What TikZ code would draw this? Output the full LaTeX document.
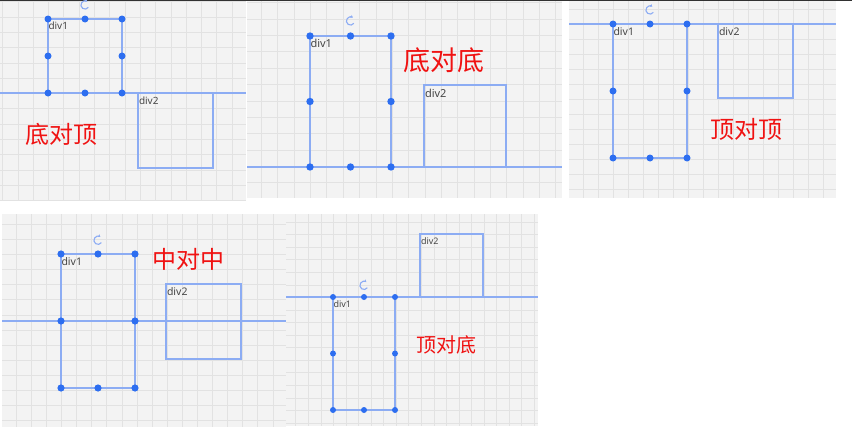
\documentclass[tikz,border=0pt]{standalone}
\usepackage{fontspec}
\setmainfont{Noto Sans}
\newfontfamily\cjk{Noto Sans CJK SC}
\usetikzlibrary{arrows.meta}
\definecolor{bg}{RGB}{243,243,243}
\definecolor{gridc}{RGB}{226,226,226}
\definecolor{hblue}{RGB}{45,110,240}
\definecolor{lblue}{RGB}{140,172,243}
\definecolor{txtred}{RGB}{240,18,18}
\definecolor{lbl}{RGB}{70,70,70}
\definecolor{topbar}{RGB}{50,50,50}

\newcommand\gridpanel[7]{%
  \fill[bg] (#1,#2) rectangle (#3,#4);
  \begin{scope}
    \clip (#1,#2) rectangle (#3,#4);
    \foreach \gi in {-26,...,26} {
      \draw[gridline] ({#5+\gi*#7},#2) -- ({#5+\gi*#7},#4);
      \draw[gridline] (#1,{#6+\gi*#7}) -- (#3,{#6+\gi*#7});
    }
  \end{scope}}

% #1 prefix, #2 L, #3 T, #4 R, #5 B, #6 handle size, #7 rotate offset, #8 label size
\newcommand\divone[8]{%
  \node[divbox,minimum width={#4pt-#2pt},minimum height={#5pt-#3pt}] (#1box) at (#2,#3) {};
  \node[handle,minimum size=#6pt] (#1tl) at (#2,#3) {};
  \node[handle,minimum size=#6pt] (#1tm) at ({(#2+#4)/2},#3) {};
  \node[handle,minimum size=#6pt] (#1tr) at (#4,#3) {};
  \node[handle,minimum size=#6pt] (#1ml) at (#2,{(#3+#5)/2}) {};
  \node[handle,minimum size=#6pt] (#1mr) at (#4,{(#3+#5)/2}) {};
  \node[handle,minimum size=#6pt] (#1bl) at (#2,#5) {};
  \node[handle,minimum size=#6pt] (#1bm) at ({(#2+#4)/2},#5) {};
  \node[handle,minimum size=#6pt] (#1br) at (#4,#5) {};
  \coordinate (#1rot) at ({(#2+#4)/2},{#3-#7});
  \draw[rot,{Stealth[length=2.6pt,width=3.2pt]}-] ([shift={(55:4.1pt)}]#1rot) arc[start angle=55,end angle=325,radius=4.1pt];
  \node[divlabel,font=\fontsize{#8}{#8}\selectfont] (#1lab) at ({#2+0.3},{#3+3.2}) {div1};
}
% #1 prefix, #2 L, #3 T, #4 R, #5 B, #6 label size
\newcommand\divtwo[6]{%
  \node[divbox,minimum width={#4pt-#2pt},minimum height={#5pt-#3pt}] (#1box) at (#2,#3) {};
  \node[divlabel,font=\fontsize{#6}{#6}\selectfont] (#1lab) at ({#2+0.8},{#3+3.5}) {div2};
}

\begin{document}
\begin{tikzpicture}[x=1pt,y=-1pt,
  gridline/.style={draw=gridc,line width=1pt},
  handle/.style={circle,fill=hblue,inner sep=0,outer sep=0},
  divbox/.style={draw=lblue,line width=1.2pt,inner sep=0,outer sep=0,anchor=north west},
  guide/.style={draw=lblue,line width=1.2pt},
  divlabel/.style={text=lbl,inner sep=0,anchor=north west},
  title/.style={text=txtred,inner sep=0,font=\cjk},
  rot/.style={draw=lblue,line width=1.1pt},
]
\useasboundingbox (0,0) rectangle (852,439);
\fill[white] (0,0) rectangle (852,439);

% panels
\gridpanel{0}{1}{246}{201}{48.6}{93.6}{15.3}
\gridpanel{247}{1}{562}{198}{310.6}{35.6}{16.35}
\gridpanel{569}{1}{836}{198}{613.6}{24.6}{15}
\gridpanel{2}{214}{286}{427}{61.6}{254.6}{15.1}
\gridpanel{286}{214}{538}{426}{333.6}{297.6}{12.55}
\fill[topbar] (0,0) rectangle (852,1.4);

% guide lines
\coordinate (g1a) at (0,93);   \coordinate (g1b) at (246,93);
\coordinate (g2a) at (247,167); \coordinate (g2b) at (562,167);
\coordinate (g3a) at (569,24);   \coordinate (g3b) at (836,24);
\coordinate (g4a) at (2,321);  \coordinate (g4b) at (286,321);
\coordinate (g5a) at (286,297); \coordinate (g5b) at (538,297);
\draw[guide] (g1a) -- (g1b);
\draw[guide] (g2a) -- (g2b);
\draw[guide] (g3a) -- (g3b);
\draw[guide] (g4a) -- (g4b);
\draw[guide] (g5a) -- (g5b);

% div2 boxes
\divtwo{pa2}{138}{93}{213}{168}{10}
\divtwo{pb2}{424}{85}{506}{167}{11}
\divtwo{pc2}{718}{24}{793}{98}{10.5}
\divtwo{pd2}{166}{284}{241}{359}{10.5}
\divtwo{pe2}{420}{234}{483}{297}{9}

% div1 boxes with handles
\divone{pa1}{48}{19}{122}{93}{7}{14}{10}
\divone{pb1}{310}{36}{391}{167}{7.4}{15}{11}
\divone{pc1}{613}{24}{687}{158}{7}{14}{10.5}
\divone{pd1}{61}{254}{135}{388}{7.2}{13.7}{10.5}
\divone{pe1}{333}{297}{395}{410}{6}{11.6}{9}

% titles
\node[title,font=\cjk\fontsize{24}{24}\selectfont] (ta) at (61.5,134) {底对顶};
\node[title,font=\cjk\fontsize{27}{27}\selectfont] (tb) at (444,60.5) {底对底};
\node[title,font=\cjk\fontsize{24}{24}\selectfont] (tc) at (746,129.5) {顶对顶};
\node[title,font=\cjk\fontsize{24}{24}\selectfont] (td) at (188,259.5) {中对中};
\node[title,font=\cjk\fontsize{20}{20}\selectfont] (te) at (446.7,345) {顶对底};
\end{tikzpicture}
\end{document}
